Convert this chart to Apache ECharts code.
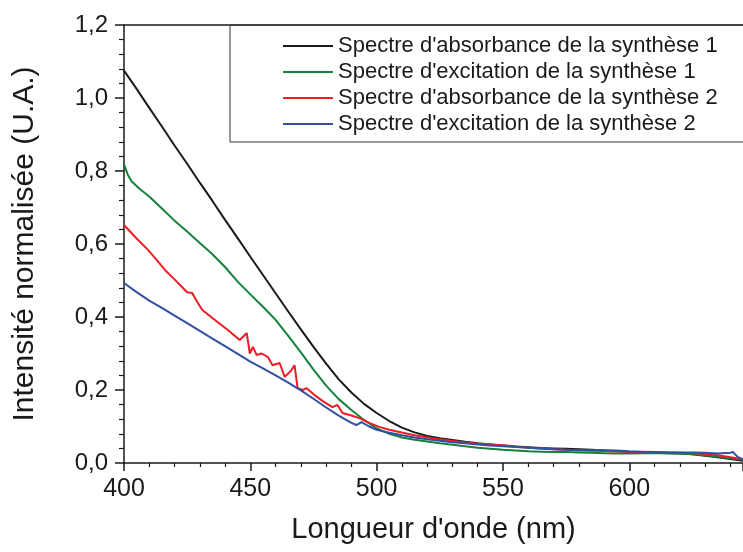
<!DOCTYPE html>
<html>
<head>
<meta charset="utf-8">
<script src="https://cdn.jsdelivr.net/npm/echarts@6/dist/echarts.min.js"></script>
<style>
  html, body { margin: 0; padding: 0; background: #fff; }
  #chart { width: 743px; height: 552px; }
</style>
</head>
<body>
<div id="chart"></div>
<script>
// wavelength grid (nm) shared by the smooth spectra
var grid5 = [400, 405, 410, 415, 420, 425, 430, 435, 440, 445, 450, 455, 460, 465, 470, 475, 480, 485, 490, 495,
    500, 505, 510, 515, 520, 525, 530, 535, 540, 545, 550, 555, 560, 565, 570, 575, 580, 585, 590, 595,
    600, 605, 610, 615, 620, 625, 630, 635, 640, 645];

var absorb1 = [1.075, 1.025, 0.973, 0.922, 0.870, 0.820, 0.768, 0.718, 0.666, 0.616, 0.565, 0.515, 0.465, 0.415, 0.366, 0.318, 0.272, 0.229, 0.193, 0.162,
    0.137, 0.115, 0.097, 0.084, 0.074, 0.068, 0.063, 0.058, 0.054, 0.051, 0.048, 0.045, 0.043, 0.041, 0.040, 0.039, 0.038, 0.036, 0.034, 0.032,
    0.030, 0.029, 0.028, 0.027, 0.026, 0.024, 0.020, 0.016, 0.011, 0.006];

var excit1X = [400, 401.5, 403, 406, 410, 415, 420, 425, 430, 435, 440, 445, 450, 455, 460, 465, 470, 475, 480, 485, 490, 495,
    500, 505, 510, 515, 520, 525, 530, 535, 540, 545, 550, 555, 560, 565, 570, 575, 580, 585, 590, 595,
    600, 605, 610, 615, 620, 625, 630, 635, 640, 645];
var excit1 = [0.818, 0.790, 0.772, 0.752, 0.730, 0.697, 0.664, 0.634, 0.603, 0.572, 0.537, 0.497, 0.462, 0.428, 0.392, 0.348, 0.303, 0.256, 0.212, 0.175, 0.145, 0.118,
    0.095, 0.080, 0.070, 0.064, 0.059, 0.054, 0.050, 0.046, 0.042, 0.039, 0.036, 0.034, 0.032, 0.031, 0.030, 0.030, 0.029, 0.028, 0.027, 0.026,
    0.026, 0.027, 0.027, 0.027, 0.026, 0.024, 0.021, 0.017, 0.013, 0.009];

// noisy absorbance of synthesis 2
var absorb2X = [400, 405, 409.5, 413, 416.2, 420, 425, 427, 429, 431, 436, 441, 445.8, 448.6, 449.8, 451, 452.5, 454.5, 457, 458.8,
    461.6, 463.6, 466, 467.5, 468.7, 470.7, 472.3, 475.4, 479, 482.5, 484.5, 486.5, 490, 493.2, 497, 501, 505, 509, 515, 522,
    530, 540, 548.5, 555, 560, 570, 580, 590, 600, 610, 620, 630, 635, 640, 645];
var absorb2 = [0.652, 0.615, 0.584, 0.556, 0.529, 0.503, 0.468, 0.466, 0.441, 0.419, 0.392, 0.365, 0.337, 0.356, 0.300, 0.318, 0.296, 0.300, 0.290, 0.268,
    0.274, 0.236, 0.252, 0.268, 0.205, 0.200, 0.205, 0.186, 0.168, 0.153, 0.159, 0.137, 0.130, 0.123, 0.110, 0.099, 0.091, 0.085, 0.076, 0.068,
    0.060, 0.053, 0.049, 0.045, 0.042, 0.038, 0.035, 0.033, 0.031, 0.030, 0.028, 0.025, 0.021, 0.016, 0.010];

var excit2X = [400, 405, 410, 415, 420, 425, 430, 435, 440, 445, 450, 455, 460, 465, 470, 475, 480, 485, 490, 492, 494, 497,
    500, 505, 510, 515, 520, 525, 530, 535, 540, 545, 550, 555, 560, 565, 570, 575, 580, 585, 590, 595,
    600, 605, 610, 615, 620, 625, 630, 635, 640, 641, 643, 645];
var excit2 = [0.493, 0.468, 0.445, 0.425, 0.404, 0.383, 0.362, 0.341, 0.320, 0.299, 0.278, 0.259, 0.240, 0.220, 0.199, 0.176, 0.152, 0.130, 0.110, 0.104, 0.112, 0.100,
    0.091, 0.083, 0.076, 0.070, 0.065, 0.061, 0.057, 0.054, 0.051, 0.048, 0.046, 0.044, 0.042, 0.040, 0.038, 0.036, 0.035, 0.035, 0.035, 0.034,
    0.032, 0.031, 0.030, 0.029, 0.029, 0.029, 0.028, 0.026, 0.028, 0.030, 0.016, 0.010];

var names = [
    "Spectre d'absorbance de la synthèse 1",
    "Spectre d'excitation de la synthèse 1",
    "Spectre d'absorbance de la synthèse 2",
    "Spectre d'excitation de la synthèse 2"
];
var colors = ['#1a1a1a', '#15813c', '#ee1d25', '#3150a2'];

function zip(xs, ys) {
    let out = [];
    for (let i = 0; i < xs.length; i++) {
        out.push([xs[i], ys[i]]);
    }
    return out;
}

var font = 'Liberation Sans, Arial, sans-serif';
var axisColor = '#1a1a1a';

var myChart = echarts.init(document.getElementById('chart'));
var option = {
    animation: false,
    color: colors,
    grid: {
        left: 124,
        right: 0,
        top: 25,
        bottom: 89,
        outerBoundsMode: 'none'
    },
    legend: {
        orient: 'vertical',
        left: 230,
        top: 25,
        padding: [10, 80, 7, 53],
        borderColor: '#333',
        borderWidth: 1,
        icon: 'rect',
        itemWidth: 50,
        itemHeight: 2,
        itemGap: 4,
        textStyle: {
            fontFamily: font,
            fontSize: 22,
            color: '#1a1a1a'
        },
        data: names
    },
    xAxis: [{
        type: 'value',
        min: 400,
        max: 645,
        interval: 50,
        name: "Longueur d'onde (nm)",
        nameLocation: 'middle',
        nameGap: 52,
        nameTextStyle: {
            fontFamily: font,
            fontSize: 29,
            color: '#1a1a1a'
        },
        axisLine: {lineStyle: {color: axisColor, width: 1.5}},
        axisTick: {length: 8, lineStyle: {color: axisColor, width: 1.5}},
        minorTick: {show: true, splitNumber: 5, length: 4, lineStyle: {color: axisColor, width: 1.2}},
        splitLine: {show: false},
        axisLabel: {
            fontFamily: font,
            fontSize: 25,
            color: '#1a1a1a',
            margin: 14,
            showMaxLabel: false
        }
    }, {
        type: 'value',
        position: 'top',
        min: 400,
        max: 645,
        interval: 50,
        axisLine: {lineStyle: {color: axisColor, width: 1.5}},
        axisTick: {show: false},
        axisLabel: {show: false},
        splitLine: {show: false}
    }],
    yAxis: {
        type: 'value',
        min: 0,
        max: 1.2,
        interval: 0.2,
        name: 'Intensité normalisée (U.A.)',
        nameLocation: 'middle',
        nameGap: 84,
        nameTextStyle: {
            fontFamily: font,
            fontSize: 30,
            color: '#1a1a1a'
        },
        axisLine: {show: true, lineStyle: {color: axisColor, width: 1.5}},
        axisTick: {show: true, length: 9, lineStyle: {color: axisColor, width: 1.5}},
        minorTick: {show: true, splitNumber: 5, length: 5, lineStyle: {color: axisColor, width: 1.2}},
        splitLine: {show: false},
        axisLabel: {
            fontFamily: font,
            fontSize: 24,
            color: '#1a1a1a',
            margin: 16,
            formatter: function (value) {
                return value.toFixed(1).replace('.', ',');
            }
        }
    },
    series: [
        {name: names[0], type: 'line', symbol: 'none', lineStyle: {width: 2}, data: zip(grid5, absorb1)},
        {name: names[1], type: 'line', symbol: 'none', lineStyle: {width: 2}, data: zip(excit1X, excit1)},
        {name: names[2], type: 'line', symbol: 'none', lineStyle: {width: 2}, data: zip(absorb2X, absorb2)},
        {name: names[3], type: 'line', symbol: 'none', lineStyle: {width: 2}, data: zip(excit2X, excit2)}
    ]
};
myChart.setOption(option);
</script>
</body>
</html>
